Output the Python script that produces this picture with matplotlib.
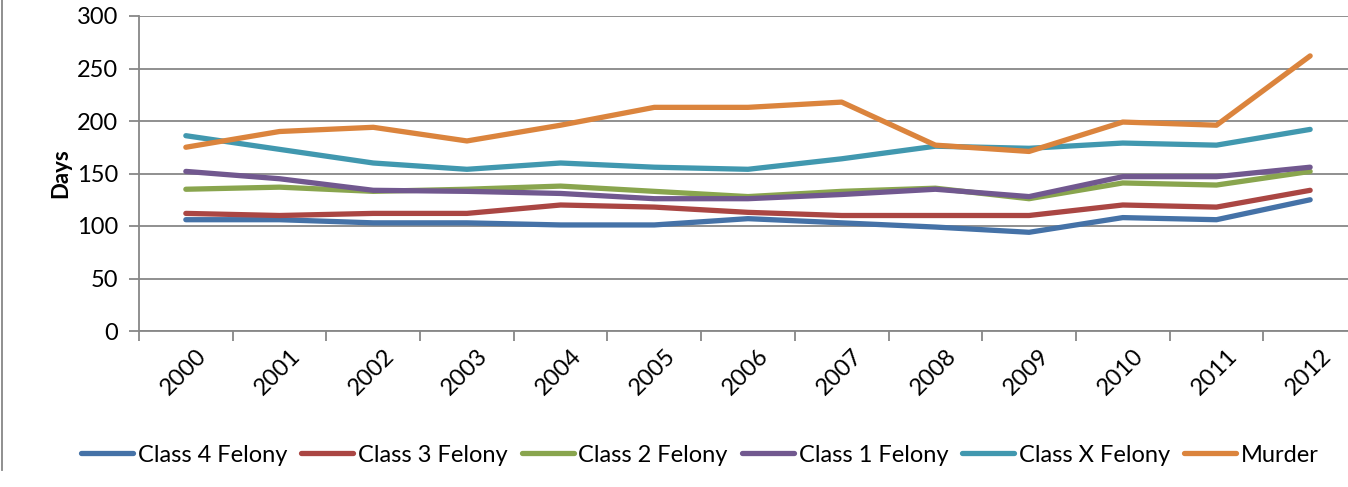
import numpy as np
import matplotlib.pyplot as plt
import matplotlib.transforms as mtransforms
from matplotlib.lines import Line2D

years = ["2000", "2001", "2002", "2003", "2004", "2005", "2006",
         "2007", "2008", "2009", "2010", "2011", "2012"]
class4 = [106, 106, 103, 103, 101, 101, 107, 103, 99, 94, 108, 106, 125]
class3 = [112, 110, 112, 112, 120, 118, 113, 110, 110, 110, 120, 118, 134]
class2 = [135, 137, 133, 135, 138, 133, 128, 133, 136, 126, 141, 139, 152]
class1 = [152, 145, 134, 133, 131, 126, 126, 130, 135, 128, 147, 147, 156]
classx = [186, 173, 160, 154, 160, 156, 154, 164, 176, 174, 179, 177, 192]
murder = [175, 190, 194, 181, 196, 213, 213, 218, 177, 171, 199, 196, 262]

series = [("Class 4 Felony", class4, "#4572A7"),
          ("Class 3 Felony", class3, "#AA4643"),
          ("Class 2 Felony", class2, "#89A54E"),
          ("Class 1 Felony", class1, "#71588F"),
          ("Class X Felony", classx, "#4198AF"),
          ("Murder", murder, "#DB843D")]

plt.rcParams["font.family"] = ["Lato", "DejaVu Sans"]

fig = plt.figure(figsize=(13.48, 4.87), dpi=100)
ax = fig.add_axes([139 / 1348, 1 - 331 / 487, (1357 - 139) / 1348, 315 / 487])

x = np.arange(len(years))
for name, vals, col in series:
    ax.plot(x, vals, color=col, lw=3.8, label=name, solid_capstyle="round")

ax.set_xlim(-0.5, len(years) - 0.5)
ax.set_ylim(0, 300)
ax.set_yticks(np.arange(0, 301, 50))
ax.yaxis.grid(True, color="#878787", lw=1.3)
ax.set_axisbelow(True)
for s in ["top", "right"]:
    ax.spines[s].set_visible(False)
for s in ["left", "bottom"]:
    ax.spines[s].set_color("#878787")
    ax.spines[s].set_linewidth(1.3)

ax.set_xticks(x)
ax.set_xticklabels(years, rotation=45, ha="right", va="top",
                   rotation_mode="anchor", fontsize=17)
ax.tick_params(axis="x", length=0, pad=10)
ax.set_xticks(np.arange(-0.5, len(years), 1), minor=True)
ax.tick_params(axis="x", which="minor", length=7, color="#878787", width=1.3)
offset = mtransforms.ScaledTranslation(10 / 100, 0, fig.dpi_scale_trans)
for lbl in ax.get_xticklabels():
    lbl.set_transform(lbl.get_transform() + offset)
ax.tick_params(axis="y", length=7, color="#878787", width=1.3, labelsize=17, pad=8)

ax.set_ylabel("Days", fontsize=16, fontweight="bold", labelpad=4)

ax.legend(loc="center", bbox_to_anchor=(700 / 1348, 1 - 455 / 487),
          bbox_transform=fig.transFigure, ncol=6, frameon=False,
          fontsize=17, handlelength=2.2, handletextpad=0.2, columnspacing=0.6)

fig.add_artist(Line2D([2 / 1348, 2 / 1348], [1, 1 - 470 / 487],
                      transform=fig.transFigure, color="#878787", lw=1.3))

fig.savefig("out.png", dpi=100)
